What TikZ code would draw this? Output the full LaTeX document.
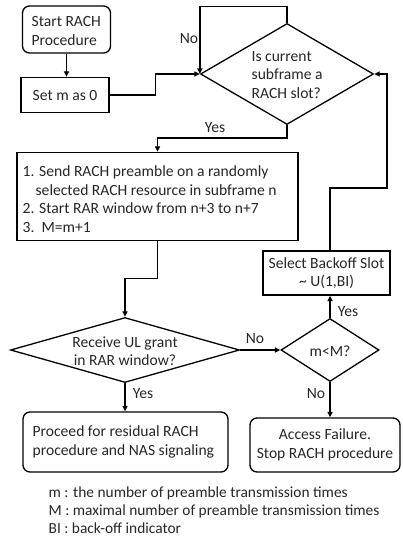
\documentclass[tikz,border=0pt]{standalone}
\usepackage{fontspec}
\setmainfont{Carlito}
\usetikzlibrary{shapes.geometric,arrows.meta}
\definecolor{ink}{gray}{0.15}
\begin{document}
\begin{tikzpicture}[x=1pt,y=-1pt,
  font=\fontsize{15.6}{18.5}\selectfont,
  text=ink,
  line width=1.3pt,
  arr/.style={-{Triangle[length=5.5pt,width=5pt]}},
  proc/.style={draw, rectangle, inner sep=0pt, align=center},
  term/.style={draw, rectangle, rounded corners=7pt, inner sep=0pt, align=center},
  cond/.style={draw, diamond, inner sep=0pt},
  txt/.style={inner sep=0pt, align=center},
  lbl/.style={inner sep=1pt}]
\useasboundingbox (0,0) rectangle (403,540);

% process and terminal boxes
\node[term, minimum width=88pt, minimum height=47pt] (start) at (66.5,29.5) {};
\node[anchor=west, align=left, inner sep=0pt] (starttxt) at (31,31) {Start RACH\\Procedure};
\node[proc, minimum width=88pt, minimum height=35pt] (setm) at (65,95) {Set m as 0};
\node[proc, minimum width=281pt, minimum height=88pt] (send) at (157.5,196.5) {};
\node[anchor=west, align=left, inner sep=0pt] (sendtxt) at (22,199) {1. Send RACH preamble on a randomly\\
  \hspace*{13pt}selected RACH resource in subframe n\\
  2. Start RAR window from n+3 to n+7\\
  3.\ \ M=m+1};
\node[proc, minimum width=127pt, minimum height=44pt] (bo) at (326.5,273) {Select Backoff Slot\\\textasciitilde\ U(1,BI)};
\node[term, minimum width=205pt, minimum height=60pt] (ok) at (125.5,442) {};
\node[anchor=west, align=left, inner sep=0pt] (oktxt) at (32,442) {Proceed for residual RACH\\procedure and NAS signaling};
\node[term, minimum width=150pt, minimum height=54pt] (fail) at (325,445) {Access Failure.\\Stop RACH procedure};

% decisions
\node[cond, minimum width=173pt, minimum height=101pt] (d1) at (287,74) {};
\node[anchor=west, align=left, inner sep=0pt] (d1txt) at (251,75) {Is current\\subframe a\\RACH slot?};
\node[cond, minimum width=229pt, minimum height=65pt] (d2) at (125,350) {};
\node[txt] (d2txt) at (125,351) {Receive UL grant\\in RAR window?};
\node[cond, minimum width=98pt, minimum height=63pt] (d3) at (330,350) {};
\node[txt] (d3txt) at (330,351) {m<M?};

% legend
\node[anchor=north west, align=left, inner sep=0pt, font=\fontsize{15.4}{18}\selectfont] (legend) at (48,486)
  {m : the number of preamble transmission times\\
   M : maximal number of preamble transmission times\\
   BI : back-off indicator};

% connectors
\coordinate (rt) at (387,188);
\draw[arr] (start.south) -- (start.south |- setm.north);
\draw[arr] (setm.east) -- ++(46,0) |- (d1.west);
\draw[arr] (d1.north) -- ++(0,-16) -| (d1.west);
\draw[arr] (d1.south) -- ++(0,13) -| (send.north);
\draw[arr] (send.south) -- ++(0,37) -| (d2.north);
\draw[arr] (d2.east) -- (d3.west);
\draw[arr] (d3.north) -- (d3.north |- bo.south);
\draw[arr] (bo.north -| d3.north) -- (d3.north |- rt) -- (rt) |- (d1.east);
\draw[arr] (d2.south) -- (d2.south |- ok.north);
\draw[arr] (d3.south) -- (d3.south |- fail.north);

% branch labels
\node[lbl] (no1) at (189,39) {No};
\node[lbl] (yes1) at (215,128) {Yes};
\node[lbl] (no2) at (255,339) {No};
\node[lbl] (yes2) at (348,312) {Yes};
\node[lbl] (yes3) at (143,394) {Yes};
\node[lbl] (no3) at (316,394) {No};
\end{tikzpicture}
\end{document}
